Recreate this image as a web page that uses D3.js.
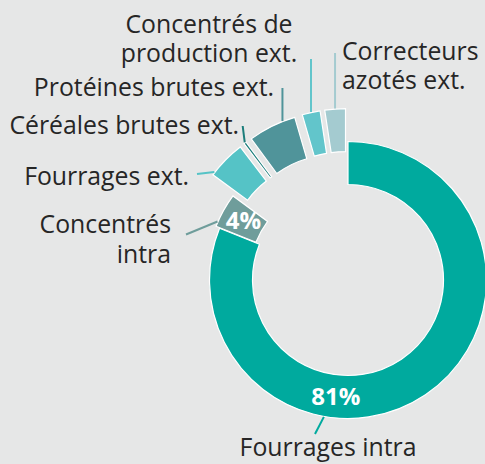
<!DOCTYPE html>
<html><head><meta charset="utf-8">
<script src="https://cdn.jsdelivr.net/npm/d3@7/dist/d3.min.js"></script>
<style>
html,body{margin:0;padding:0;background:#e6e7e7;}
svg{display:block;}
</style></head>
<body>
<svg id="chart" width="485" height="464"></svg>
<script>
// ---- data ----
const categories = ["Fourrages intra","Concentrés intra","Fourrages ext.","Céréales brutes ext.","Protéines brutes ext.","Concentrés de production ext.","Correcteurs azotés ext."];
const values = [81.1, 4.0, 4.5, 0.3, 5.6, 2.1, 2.4];
const valueLabels = ["81%","4%","","","","",""];
const colors = ["#00aa9e","#6f9d9b","#55c3c6","#1b7d7b","#50949a","#62c5cb","#a4cbd0"];

// ---- layout (positions/styles) ----
const W = 485, H = 464, cx = 348, cy = 280, rIn = 95.5, rOut = 138.5;
const explode = [0, 4, 33, 33, 33, 33, 33];
const labelLines = [["Fourrages intra"],["Concentrés","intra"],["Fourrages ext."],["Céréales brutes ext."],["Protéines brutes ext."],["Concentrés de","production ext."],["Correcteurs","azotés ext."]];
const labelPos = [
  {x:328, y:456, anchor:"middle"},
  {x:171, y:233, anchor:"end"},
  {x:189, y:185, anchor:"end"},
  {x:239, y:134, anchor:"end"},
  {x:274, y:95.5, anchor:"end"},
  {x:209, y:32.5, anchor:"middle"},
  {x:342, y:59.5, anchor:"start"}
];
// leader: start angle on outer edge (deg, null = mid), end point (null x = vertical)
const leaders = [
  {a:190, ex:315, ey:434},
  {a:294, ex:186, ey:234.5},
  {a:307.6, ex:197, ey:174},
  {a:null, ex:242.7, ey:126},
  {a:338.5, ex:null, ey:88},
  {a:null, ex:null, ey:59},
  {a:null, ex:null, ey:53}
];
const valueLabelAngle = [186, null];

const svg = d3.select("#chart");
svg.append("rect").attr("width",W).attr("height",H).attr("fill","#e6e7e7");

const pie = d3.pie().sort(null).value(d => d)(values);
const arc = d3.arc().innerRadius(rIn).outerRadius(rOut);
const rad = d => d * Math.PI / 180;

function off(d, i){
  const m = (d.startAngle + d.endAngle)/2;
  return [explode[i]*Math.sin(m), -explode[i]*Math.cos(m)];
}
function pt(d, i, a, r){
  const o = off(d, i);
  return [cx + o[0] + r*Math.sin(a), cy + o[1] - r*Math.cos(a)];
}

const g = svg.append("g");
g.selectAll("path.slice").data(pie).join("path")
  .attr("class","slice")
  .attr("d", arc)
  .attr("transform", (d,i) => { const o = off(d,i); return `translate(${cx+o[0]},${cy+o[1]})`; })
  .attr("fill", (d,i) => colors[i])
  .attr("stroke", "#ffffff")
  .attr("stroke-width", 1.2)
  .attr("stroke-linejoin","miter");

// leader lines
pie.forEach((d,i) => {
  const L = leaders[i];
  const a = L.a === null ? (d.startAngle + d.endAngle)/2 : rad(L.a);
  const s = pt(d, i, a, rOut + 0.5);
  const ex = L.ex === null ? s[0] : L.ex;
  svg.append("line")
    .attr("x1", s[0]).attr("y1", s[1])
    .attr("x2", ex).attr("y2", L.ey)
    .attr("stroke", colors[i]).attr("stroke-width", 2);
});

// category labels
categories.forEach((c,i) => {
  const p = labelPos[i];
  const t = svg.append("text")
    .attr("x", p.x).attr("y", p.y)
    .attr("text-anchor", p.anchor)
    .attr("font-family", "'Open Sans', sans-serif")
    .attr("font-size", 24.8)
    .attr("fill", "#262626");
  labelLines[i].forEach((ln, k) => {
    t.append("tspan").attr("x", p.x).attr("dy", k === 0 ? 0 : 29.5).text(ln);
  });
});

// value labels
pie.forEach((d,i) => {
  if (!valueLabels[i]) return;
  const r = (rIn + rOut)/2;
  let p;
  if (valueLabelAngle[i] != null) {
    p = pt(d, i, rad(valueLabelAngle[i]), r);
  } else {
    p = pt(d, i, (d.startAngle + d.endAngle)/2, r + 1);
  }
  svg.append("text")
    .attr("x", p[0] + (i === 1 ? 2 : 0)).attr("y", p[1])
    .attr("dy", "0.36em")
    .attr("text-anchor","middle")
    .attr("font-family", "'Open Sans', sans-serif")
    .attr("font-weight", 700)
    .attr("font-size", 24)
    .attr("fill", "#ffffff")
    .text(valueLabels[i]);
});
</script>
</body></html>
